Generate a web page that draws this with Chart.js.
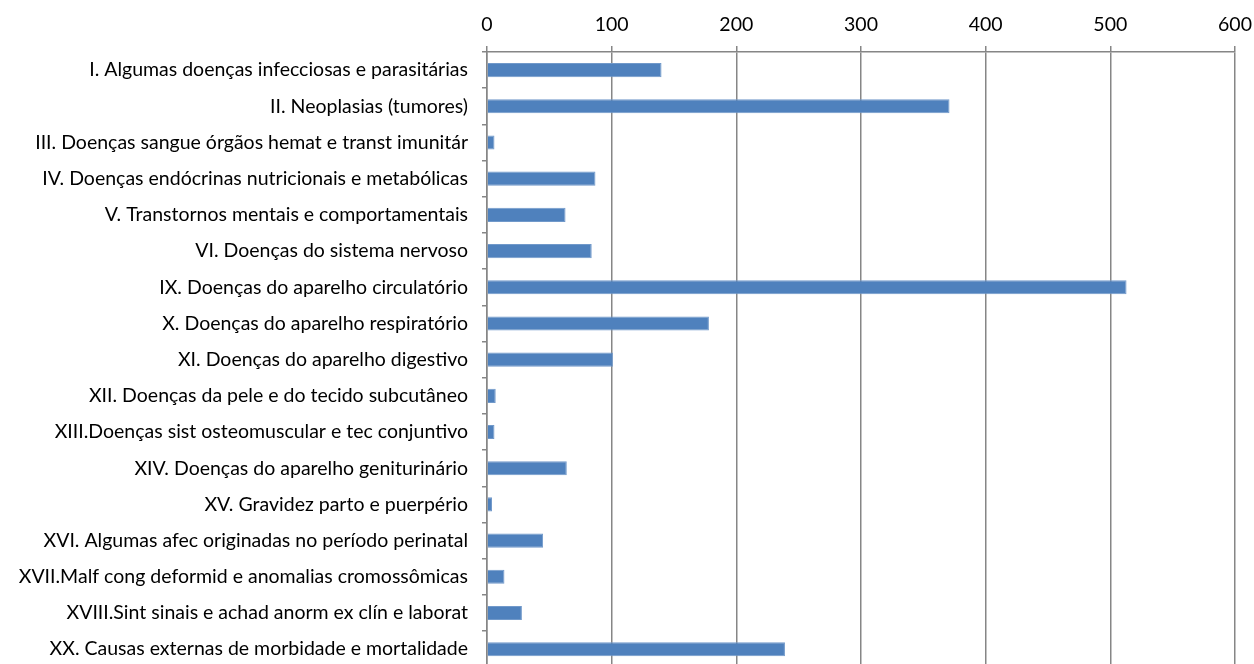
<!DOCTYPE html>
<html>
<head>
<meta charset="utf-8">
<script src="https://cdn.jsdelivr.net/npm/chart.js@4.4.1/dist/chart.umd.min.js"></script>
<style>
html,body{margin:0;padding:0;background:#fff;overflow:hidden;}
#wrap{position:relative;width:1254px;height:693px;}
</style>
</head>
<body>
<div id="wrap"><canvas id="c" width="1254" height="693"></canvas></div>
<script>
const categories = [
  "I. Algumas doenças infecciosas e parasitárias",
  "II. Neoplasias (tumores)",
  "III. Doenças sangue órgãos hemat e transt imunitár",
  "IV. Doenças endócrinas nutricionais e metabólicas",
  "V. Transtornos mentais e comportamentais",
  "VI. Doenças do sistema nervoso",
  "IX. Doenças do aparelho circulatório",
  "X. Doenças do aparelho respiratório",
  "XI. Doenças do aparelho digestivo",
  "XII. Doenças da pele e do tecido subcutâneo",
  "XIII.Doenças sist osteomuscular e tec conjuntivo",
  "XIV. Doenças do aparelho geniturinário",
  "XV. Gravidez parto e puerpério",
  "XVI. Algumas afec originadas no período perinatal",
  "XVII.Malf cong deformid e anomalias cromossômicas",
  "XVIII.Sint sinais e achad anorm ex clín e laborat",
  "XX. Causas externas de morbidade e mortalidade"
];
const values = [140, 371, 6, 87, 63, 84, 513, 178, 101, 7, 6, 64, 4, 45, 14, 28, 239];
const xTicks = [0, 100, 200, 300, 400, 500, 600];

const gridColor = '#868686';
const fontFamily = "Lato, 'Open Sans', sans-serif";

new Chart(document.getElementById('c'), {
  type: 'bar',
  data: {
    labels: categories,
    datasets: [{
      data: values,
      backgroundColor: '#4F81BD',
      borderColor: '#7199CA',
      borderWidth: 1,
      borderSkipped: 'left',
      barPercentage: 0.39,
      categoryPercentage: 1.0
    }]
  },
  options: {
    indexAxis: 'y',
    responsive: false,
    animation: false,
    layout: { padding: { left: 0, right: 19, top: 0, bottom: 0 } },
    plugins: { legend: { display: false }, tooltip: { enabled: false } },
    scales: {
      x: {
        position: 'top',
        min: 0,
        max: 600,
        afterBuildTicks: (scale) => { scale.ticks = xTicks.map(v => ({ value: v })); },
        afterFit: (scale) => { scale.height = 52; scale.paddingRight = 0; scale.paddingLeft = 0; },
        ticks: {
          color: '#000',
          font: { family: fontFamily, size: 19.5 },
          padding: 10,
          maxRotation: 0
        },
        grid: {
          color: gridColor,
          lineWidth: 1.5,
          tickLength: 6,
          drawTicks: true
        },
        border: { color: gridColor, width: 1.5 }
      },
      y: {
        afterFit: (scale) => { scale.width = 487; },
        ticks: {
          color: '#000',
          font: { family: fontFamily, size: 19.5 },
          padding: 14,
          autoSkip: false
        },
        grid: {
          offset: true,
          drawOnChartArea: false,
          drawTicks: true,
          tickLength: 5,
          color: gridColor,
          lineWidth: 1.5
        },
        border: { color: gridColor, width: 1.5 }
      }
    }
  }
});
</script>
</body>
</html>
